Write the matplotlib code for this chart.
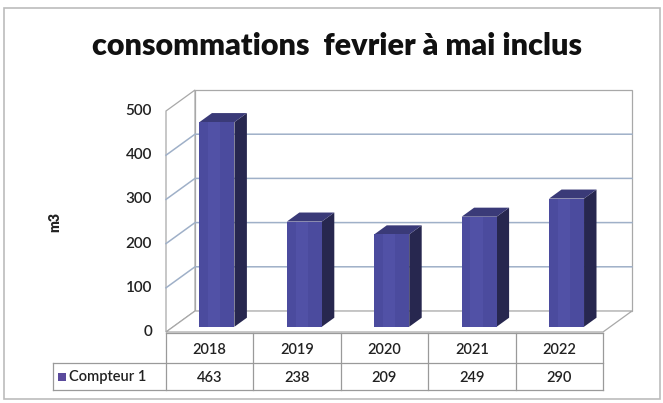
import matplotlib
matplotlib.use("Agg")
import matplotlib.pyplot as plt
from matplotlib.patches import Polygon, Rectangle
import matplotlib.lines as mlines

years = ["2018", "2019", "2020", "2021", "2022"]
values = [463, 238, 209, 249, 290]
series_name = "Compteur 1"
title = "consommations  fevrier à mai inclus"
ylabel = "m3"
yticks = [0, 100, 200, 300, 400, 500]

W, H = 663, 403
fig = plt.figure(figsize=(W / 100, H / 100), dpi=100)
fig.patch.set_facecolor("white")

# frame of the chart area
fig.add_artist(Rectangle((4 / W, 1 - 399 / H), (660 - 4) / W, (399 - 8) / H,
                         transform=fig.transFigure, fill=False,
                         edgecolor="#bcbcbc", linewidth=1.2))

fig.text(337 / W, 1 - 46 / H, title, ha="center", va="center",
         fontsize=22, fontweight="heavy", family="Lato", color="#111111")

# axes = front plane of the 3D box
x_left, x_right, y_bottom, px_per_unit = 166, 603, 332, 0.442
ax = fig.add_axes([x_left / W, 1 - y_bottom / H, (x_right - x_left) / W,
                   500 * px_per_unit / H])
n = len(years)
ax.set_xlim(-0.5, n - 0.5)
ax.set_ylim(0, 500)
ax.axis("off")

ddx = 29 / ((x_right - x_left) / n)   # depth offset in category units
ddy = 21 / px_per_unit                 # depth offset in value units
ymax = yticks[-1]
xa, xb = -0.5, n - 0.5
wall_col = "#a8a8a8"
grid_col = "#9fb0c8"

# back wall, side wall, floor outlines
for pts in [
    [(xa + ddx, ddy), (xb + ddx, ddy), (xb + ddx, ymax + ddy), (xa + ddx, ymax + ddy)],
    [(xa, 0), (xa + ddx, ddy), (xa + ddx, ymax + ddy), (xa, ymax)],
    [(xa, 0), (xb, 0), (xb + ddx, ddy), (xa + ddx, ddy)],
]:
    ax.add_patch(Polygon(pts, closed=True, facecolor="white", edgecolor=wall_col,
                         linewidth=0.9, clip_on=False, zorder=1))

for v in yticks[1:-1]:
    ax.plot([xa, xa + ddx, xb + ddx], [v, v + ddy, v + ddy], color=grid_col,
            linewidth=1.1, clip_on=False, zorder=2)

for v in yticks:
    ax.text(xa - 0.16, v, str(v), ha="right", va="center", fontsize=11,
            family="Lato", fontweight="semibold", color="#222222", clip_on=False)

fig.text(55 / W, 1 - 222 / H, ylabel, rotation=90, ha="center", va="center",
         fontsize=10, fontweight="heavy", family="Lato", color="#222222")

# bars
bw = 0.4
z0, z1 = 0.25, 0.68
front_c, side_c, top_c = "#4b4b9e", "#27274f", "#3a3a78"
for i, v in enumerate(values):
    x0 = i - bw / 2 + z0 * ddx
    x1 = x0 + bw
    y0 = z0 * ddy
    dx = (z1 - z0) * ddx
    dy = (z1 - z0) * ddy
    ax.add_patch(Polygon([(x1, y0), (x1 + dx, y0 + dy), (x1 + dx, y0 + v + dy), (x1, y0 + v)],
                         closed=True, facecolor=side_c, edgecolor="none", clip_on=False, zorder=5))
    ax.add_patch(Polygon([(x0, y0 + v), (x1, y0 + v), (x1 + dx, y0 + v + dy), (x0 + dx, y0 + v + dy)],
                         closed=True, facecolor=top_c, edgecolor="none", clip_on=False, zorder=5))
    ax.add_patch(Rectangle((x0, y0), bw, v, facecolor=front_c, edgecolor="none",
                           clip_on=False, zorder=6))
    ax.add_patch(Rectangle((x0 + bw * 0.25, y0), bw * 0.35, v, facecolor="#5656ad",
                           edgecolor="none", clip_on=False, zorder=6, alpha=0.6))

# data table
tcol = "#9a9a9a"
row_top, row_mid, row_bot = 333, 363, 390
label_left = 53
def fy(py):
    return 1 - py / H
def fx(px):
    return px / W
cell_w = (x_right - x_left) / n
for py, xs in [(row_top, x_left), (row_mid, label_left), (row_bot, label_left)]:
    fig.add_artist(mlines.Line2D([fx(xs), fx(x_right)], [fy(py), fy(py)],
                                 color=tcol, linewidth=0.9))
for j in range(n + 1):
    px = x_left + j * cell_w
    fig.add_artist(mlines.Line2D([fx(px), fx(px)], [fy(row_top), fy(row_bot)],
                                 color=tcol, linewidth=0.9))
fig.add_artist(mlines.Line2D([fx(label_left), fx(label_left)], [fy(row_mid), fy(row_bot)],
                             color=tcol, linewidth=0.9))
for j in range(n):
    cx = x_left + (j + 0.5) * cell_w
    fig.text(fx(cx), fy((row_top + row_mid) / 2 + 2), years[j], ha="center", va="center",
             fontsize=10.5, family="Lato", fontweight="semibold", color="#222222")
    fig.text(fx(cx), fy((row_mid + row_bot) / 2 + 1), str(values[j]), ha="center", va="center",
             fontsize=10.5, family="Lato", fontweight="semibold", color="#222222")
fig.add_artist(Rectangle((fx(58), fy(381)), 8 / W, 8 / H, transform=fig.transFigure,
                         facecolor="#5a4a9c", edgecolor="none"))
fig.text(fx(69), fy((row_mid + row_bot) / 2 + 1), series_name, ha="left", va="center",
         fontsize=10.5, family="Lato", fontweight="semibold", color="#222222")

fig.savefig("out.png", dpi=100)
